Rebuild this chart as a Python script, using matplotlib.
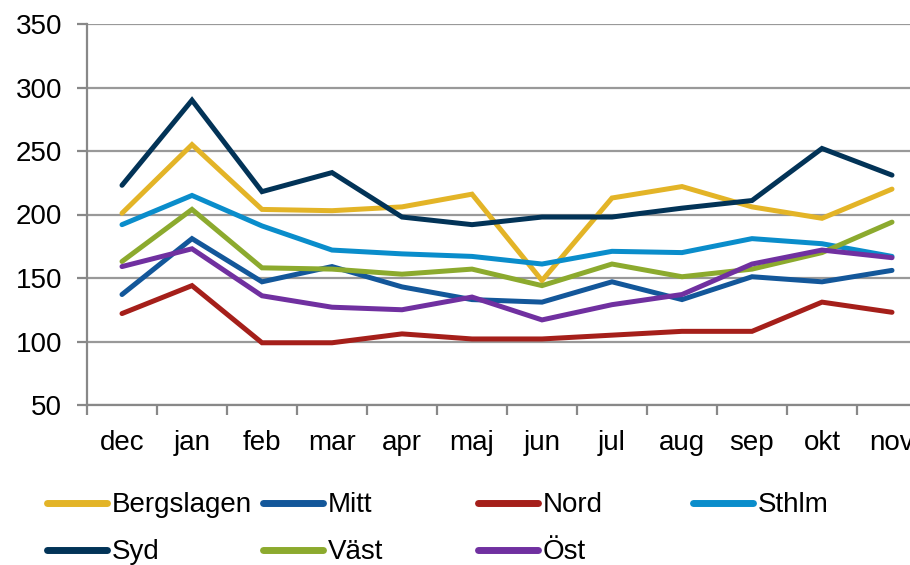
import matplotlib
matplotlib.use('Agg')
import matplotlib.pyplot as plt
from matplotlib.lines import Line2D

months = ['dec', 'jan', 'feb', 'mar', 'apr', 'maj', 'jun', 'jul', 'aug', 'sep', 'okt', 'nov']

bergslagen = [201, 255, 204, 203, 206, 216, 148, 213, 222, 206, 197, 220]
mitt = [137, 181, 147, 159, 143, 133, 131, 147, 133, 151, 147, 156]
nord = [122, 144, 99, 99, 106, 102, 102, 105, 108, 108, 131, 123]
sthlm = [192, 215, 191, 172, 169, 167, 161, 171, 170, 181, 177, 167]
syd = [223, 290, 218, 233, 198, 192, 198, 198, 205, 211, 252, 231]
vast = [163, 204, 158, 157, 153, 157, 144, 161, 151, 157, 170, 194]
ost = [159, 173, 136, 127, 125, 135, 117, 129, 137, 161, 172, 166]

names = ['Bergslagen', 'Mitt', 'Nord', 'Sthlm', 'Syd', 'Väst', 'Öst']
series = [bergslagen, mitt, nord, sthlm, syd, vast, ost]
colors = ['#E3B427', '#13579A', '#A51F1A', '#0A8DCB', '#023357', '#8CAA2E', '#7030A0']

plt.rcParams['font.family'] = ['Liberation Sans', 'DejaVu Sans']
FS = 20

W, H = 910, 565
fig = plt.figure(figsize=(W / 100, H / 100), dpi=100)
ax = fig.add_axes([87 / W, (H - 405) / H, 840 / W, 381 / H])

x = range(len(months))
for name, vals, c in zip(names, series, colors):
    ax.plot(x, vals, color=c, lw=3.6, solid_capstyle='round', solid_joinstyle='miter', label=name)

ax.set_xlim(-0.5, len(months) - 0.5)
ax.set_ylim(50, 350)
ax.set_yticks(range(50, 351, 50))
ax.yaxis.grid(True, color='#999999', lw=1.6)
ax.set_axisbelow(True)

ax.set_xticks([i - 0.5 for i in range(len(months) + 1)])
ax.set_xticklabels([])
ax.set_xticks(list(x), minor=True)
ax.set_xticklabels(months, minor=True)
ax.tick_params(axis='x', which='major', length=7, width=1.6, color='#888888', direction='out')
ax.tick_params(axis='x', which='minor', length=0, pad=18, labelsize=FS)
ax.tick_params(axis='y', length=7, width=1.6, color='#888888', labelsize=FS, pad=11)

for s in ['top', 'right']:
    ax.spines[s].set_visible(False)
for s in ['left', 'bottom']:
    ax.spines[s].set_color('#888888')
    ax.spines[s].set_linewidth(1.6)

# legend: Excel-style equal-width columns
col_x = [47, 263, 478, 693]
row_y = [503, 550]
for i, (name, c) in enumerate(zip(names, colors)):
    col, row = i % 4, i // 4
    x0 = col_x[col]
    y0 = row_y[row]
    fig.add_artist(Line2D([x0 / W, (x0 + 60) / W], [1 - y0 / H, 1 - y0 / H],
                          color=c, lw=5, solid_capstyle='round', transform=fig.transFigure))
    fig.text((x0 + 65) / W, 1 - (y0 + 2) / H, name, fontsize=FS, va='center', ha='left')

fig.savefig('out.png', dpi=100)
